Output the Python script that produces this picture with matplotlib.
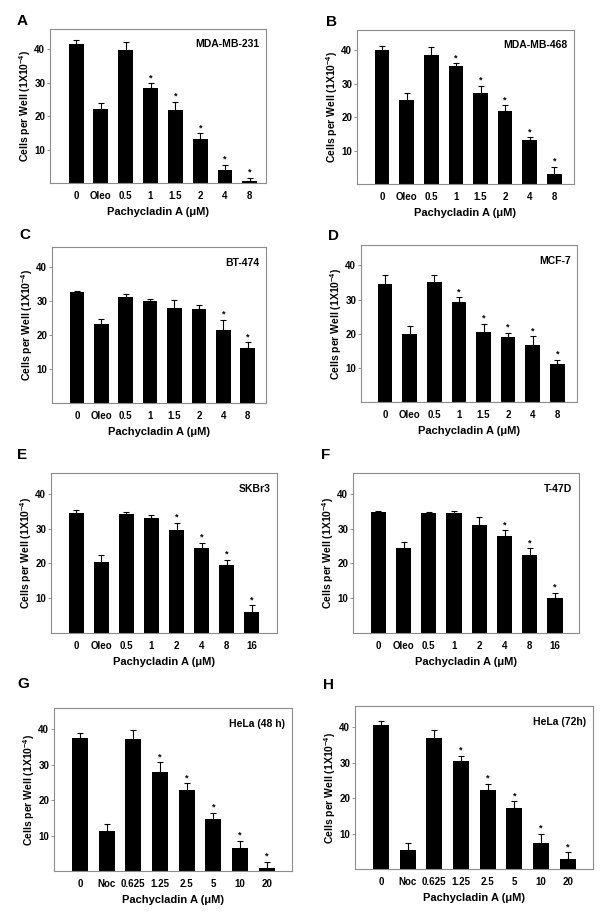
import matplotlib
matplotlib.use("Agg")
import matplotlib.pyplot as plt

plt.rcParams['font.family'] = ['Liberation Sans', 'DejaVu Sans']
plt.rcParams['font.weight'] = 'bold'
plt.rcParams['mathtext.fontset'] = 'custom'
plt.rcParams['mathtext.rm'] = 'Liberation Sans:bold'
plt.rcParams['mathtext.bf'] = 'Liberation Sans:bold'
plt.rcParams['mathtext.default'] = 'bf'

# Data
labels_breast = ['0', 'Oleo', '0.5', '1', '1.5', '2', '4', '8']
labels_sk = ['0', 'Oleo', '0.5', '1', '2', '4', '8', '16']
labels_hela = ['0', 'Noc', '0.625', '1.25', '2.5', '5', '10', '20']

means_a = [41.5, 22.0, 39.7, 28.3, 21.7, 13.0, 3.9, 0.6]
err_a = [1.1, 2.0, 2.5, 1.5, 2.5, 1.8, 1.6, 1.0]
stars_a = [3, 4, 5, 6, 7]

means_b = [40.1, 25.2, 38.5, 35.1, 27.2, 21.9, 13.0, 3.0]
err_b = [1.2, 1.9, 2.5, 1.0, 2.2, 1.6, 1.0, 2.2]
stars_b = [3, 4, 5, 6, 7]

means_c = [32.6, 23.2, 31.4, 30.0, 28.1, 27.6, 21.5, 16.1]
err_c = [0.3, 1.5, 0.7, 0.7, 2.2, 1.4, 3.0, 1.8]
stars_c = [6, 7]

means_d = [34.6, 20.0, 35.3, 29.2, 20.6, 19.1, 16.7, 11.0]
err_d = [2.6, 2.3, 1.9, 1.5, 2.3, 1.2, 2.5, 1.3]
stars_d = [3, 4, 5, 6, 7]

means_e = [34.5, 20.5, 34.1, 33.2, 29.6, 24.4, 19.5, 5.9]
err_e = [0.8, 1.9, 0.8, 0.7, 2.0, 1.5, 1.6, 2.1]
stars_e = [4, 5, 6, 7]

means_f = [34.8, 24.5, 34.4, 34.4, 31.1, 27.8, 22.3, 10.2]
err_f = [0.3, 1.6, 0.4, 0.7, 2.3, 1.7, 2.1, 1.4]
stars_f = [5, 6, 7]

means_g = [37.6, 11.3, 37.3, 27.8, 23.0, 14.8, 6.4, 0.8]
err_g = [1.4, 2.0, 2.5, 2.9, 1.8, 1.7, 2.2, 1.8]
stars_g = [3, 4, 5, 6, 7]

means_h = [40.5, 5.4, 36.9, 30.6, 22.2, 17.3, 7.3, 2.8]
err_h = [1.4, 1.8, 2.2, 1.4, 1.8, 1.8, 2.7, 1.9]
stars_h = [3, 4, 5, 6, 7]

# panel: letter, cell line, labels, means, errors, stars, box in pixels (l, t, r, b), xlim, letter pos
panels = [
    ('A', 'MDA-MB-231', labels_breast, means_a, err_a, stars_a, (50, 29, 266, 183), (-1.05, 7.65), (17, 21)),
    ('B', 'MDA-MB-468', labels_breast, means_b, err_b, stars_b, (357, 30, 574, 184), (-1.02, 7.8), (326, 22)),
    ('C', 'BT-474', labels_breast, means_c, err_c, stars_c, (52, 247, 266, 403), (-1.02, 7.75), (19, 235)),
    ('D', 'MCF-7', labels_breast, means_d, err_d, stars_d, (361, 245, 577, 402), (-0.98, 7.8), (328, 236)),
    ('E', 'SKBr3', labels_sk, means_e, err_e, stars_e, (51, 473, 277, 633), (-1.0, 8.0), (17, 455)),
    ('F', 'T-47D', labels_sk, means_f, err_f, stars_f, (353, 473, 579, 633), (-1.0, 7.95), (321, 455)),
    ('G', 'HeLa (48 h)', labels_hela, means_g, err_g, stars_g, (54, 708, 292, 871), (-0.97, 7.94), (17, 684)),
    ('H', 'HeLa (72h)', labels_hela, means_h, err_h, stars_h, (355, 706, 593, 869), (-0.97, 7.94), (323, 685)),
]

W, H = 604, 919
fig = plt.figure(figsize=(W / 100, H / 100), dpi=100)

for letter, cell, labels, means, errs, stars, box, xlim, lpos in panels:
    l, t, r, b = box
    ax = fig.add_axes([l / W, 1 - b / H, (r - l) / W, (b - t) / H])
    x = list(range(len(means)))
    ax.bar(x, means, width=0.6, color='black')
    ax.errorbar(x, means, yerr=[[0] * len(errs), errs], fmt='none',
                ecolor='black', elinewidth=0.8, capsize=2, capthick=0.8)
    for i in stars:
        ax.text(i, means[i] + errs[i] + 0.3, '*', ha='center', va='bottom',
                fontsize=6.5, fontweight='bold')
    ax.set_xlim(xlim)
    ax.set_ylim(0, 46)
    ax.set_yticks([10, 20, 30, 40])
    ax.set_xticks(x)
    ax.set_xticklabels(labels, fontsize=7, fontweight='bold')
    ax.set_yticklabels(['10', '20', '30', '40'], fontsize=7, fontweight='bold')
    ax.tick_params(axis='x', length=0, pad=6)
    ax.tick_params(axis='y', length=2, width=0.6, pad=1.5, color='#808080')
    for s in ax.spines.values():
        s.set_color('#8c8c8c')
        s.set_linewidth(0.8)
    ax.set_xlabel('Pachycladin A (\u03bcM)', fontsize=8, fontweight='bold', labelpad=4)
    ax.set_ylabel(r'Cells per Well (1X10$^{-4}$)', fontsize=7.5, fontweight='bold', labelpad=1)
    ax.text(0.97, 0.9, cell, transform=ax.transAxes, ha='right', va='center',
            fontsize=7.5, fontweight='bold')
    fig.text(lpos[0] / W, 1 - lpos[1] / H, letter, ha='left', va='center',
             fontsize=11, fontweight='bold')

fig.savefig('out.png', dpi=100)
